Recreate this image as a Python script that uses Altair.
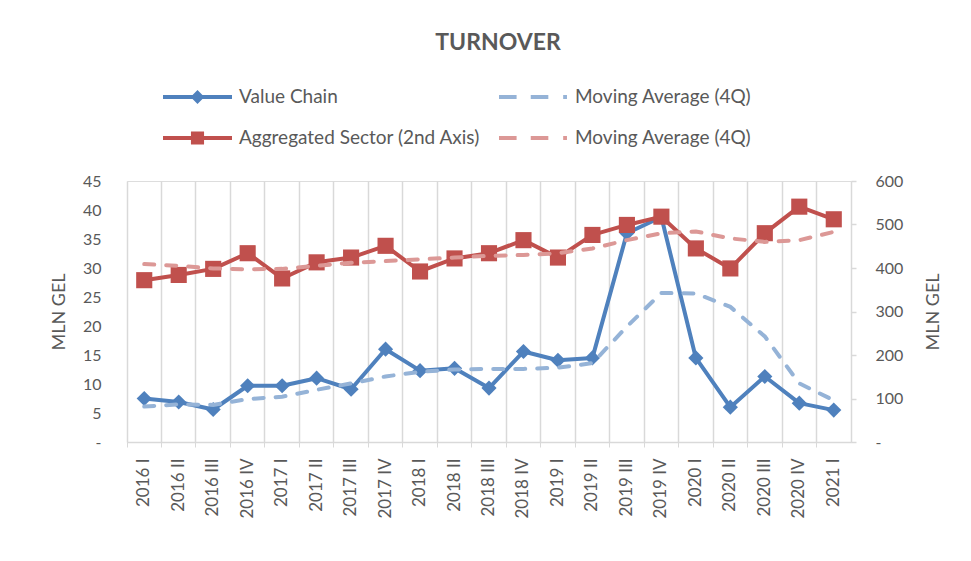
import altair as alt
import pandas as pd

quarters = ["2016 I", "2016 II", "2016 III", "2016 IV",
            "2017 I", "2017 II", "2017 III", "2017 IV",
            "2018 I", "2018 II", "2018 III", "2018 IV",
            "2019 I", "2019 II", "2019 III", "2019 IV",
            "2020 I", "2020 II", "2020 III", "2020 IV",
            "2021 I"]

value_chain = [7.5, 6.9, 5.6, 9.7, 9.7, 11.0, 9.1, 16.0, 12.3, 12.7, 9.3,
               15.6, 14.1, 14.5, 36.0, 38.8, 14.5, 6.0, 11.3, 6.7, 5.5]
value_chain_ma = [6.1, 6.5, 6.4, 7.4, 7.8, 9.0, 10.1, 11.3, 12.1, 12.5, 12.6,
                  12.6, 12.8, 13.6, 19.9, 25.7, 25.6, 23.3, 18.2, 10.1, 7.2]
aggregated = [372, 384, 398, 434, 376, 413, 424, 451, 392, 422, 434,
              464, 424, 476, 499, 518, 445, 399, 480, 541, 512]
aggregated_ma = [409, 405, 399, 397, 398, 405, 412, 416, 420, 424, 428,
                 430, 434, 445, 464, 480, 484, 468, 460, 464, 483]

legend_keys = ["Value Chain", "Aggregated Sector (2nd Axis)", "MA_VC", "MA_AS"]
legend_colors = ["#4F81BD", "#C0504D", "#95B3D7", "#DC9896"]

df = pd.DataFrame({
    "q": quarters,
    "vc": value_chain,
    "vc_ma": value_chain_ma,
    "ag": aggregated,
    "ag_ma": aggregated_ma,
})

GRAY = "#595959"
LINE = "#D9D9D9"
FONT = "Lato"

x_enc = alt.X(
    "q:N", sort=quarters, bandPosition=0.5, title=None,
    scale=alt.Scale(type="band", paddingInner=0, paddingOuter=0),
    axis=alt.Axis(bandPosition=0, grid=True, gridColor=LINE, gridWidth=1.5,
                  domainColor=LINE, domainWidth=1.5, tickColor=LINE, tickSize=5,
                  labelAngle=-90, labelPadding=11, labelFontSize=17,
                  labelColor=GRAY, labelFont=FONT),
)

left_axis = alt.Axis(values=list(range(0, 50, 5)), grid=False, domain=False, ticks=False,
                     tickSize=0, labelPadding=26, labelFontSize=16, labelColor=GRAY,
                     labelFont=FONT, labelExpr="datum.value == 0 ? '-' : datum.label",
                     title="MLN GEL", titleFontSize=18, titleFontWeight="normal",
                     titleColor=GRAY, titleFont=FONT, titlePadding=14)
right_axis = alt.Axis(orient="right", values=list(range(0, 700, 100)), grid=False,
                      domain=True, domainColor=LINE, domainWidth=1.5, ticks=True,
                      tickColor=LINE, tickSize=5, tickWidth=1.5, labelPadding=19,
                      labelFontSize=16, labelColor=GRAY, labelFont=FONT,
                      labelExpr="datum.value == 0 ? '-' : datum.label",
                      title="MLN GEL", titleFontSize=18, titleFontWeight="normal",
                      titleColor=GRAY, titleFont=FONT, titlePadding=40, titleAngle=270)

left_scale = alt.Scale(domain=[0, 45], nice=False, zero=True)
right_scale = alt.Scale(domain=[0, 600], nice=False, zero=True)

base = alt.Chart(df)

vc_line = base.mark_line(
    color="#4F81BD", strokeWidth=4, strokeJoin="round",
    point=alt.OverlayMarkDef(shape="diamond", size=230, filled=True, color="#4F81BD", opacity=1),
).encode(x=x_enc, y=alt.Y("vc:Q", scale=left_scale, axis=left_axis))

ag_line = base.mark_line(
    color="#C0504D", strokeWidth=4, strokeJoin="round",
    point=alt.OverlayMarkDef(shape="square", size=260, filled=True, color="#C0504D", opacity=1),
).encode(x=x_enc, y=alt.Y("ag:Q", scale=right_scale, axis=right_axis))

vc_ma_line = base.mark_line(
    color="#95B3D7", strokeWidth=4, strokeDash=[10, 12], strokeCap="round",
).encode(x=x_enc, y=alt.Y("vc_ma:Q", scale=left_scale, axis=None))

ag_ma_line = base.mark_line(
    color="#DC9896", strokeWidth=4, strokeDash=[10, 12], strokeCap="round",
).encode(x=x_enc, y=alt.Y("ag_ma:Q", scale=right_scale, axis=None))

# legend-only layer (no rows survive the filter; legend built from explicit scale domains)
dash_path = "M-1,-0.06H-0.49V0.06H-1Z M-0.08,-0.06H0.43V0.06H-0.08Z M0.86,-0.06H0.97V0.06H0.86Z"
legend_paths = [
    "M-1,-0.06H1V0.06H-1Z M0,-0.2L0.2,0L0,0.2L-0.2,0Z",
    "M-1,-0.06H1V0.06H-1Z M-0.19,-0.19H0.19V0.19H-0.19Z",
    dash_path,
    dash_path,
]
legend_df = pd.DataFrame({"series": legend_keys})
legend_layer = alt.Chart(legend_df).transform_filter("false").mark_point(
    filled=True, opacity=1
).encode(
    color=alt.Color("series:N", scale=alt.Scale(domain=legend_keys, range=legend_colors),
                    legend=alt.Legend(
                        title=None, orient="none", legendX=36, legendY=-95,
                        columns=2, columnPadding=18, rowPadding=19, clipHeight=22,
                        symbolSize=4761, symbolStrokeWidth=0, labelOffset=7,
                        labelFontSize=19, labelColor=GRAY, labelFont=FONT,
                        labelLimit=400,
                        labelExpr="(datum.label == 'MA_VC' || datum.label == 'MA_AS') ? 'Moving Average (4Q)' : datum.label",
                    )),
    shape=alt.Shape("series:N", scale=alt.Scale(domain=legend_keys, range=legend_paths)),
)

chart = alt.layer(vc_line, ag_line, vc_ma_line, ag_ma_line, legend_layer).resolve_scale(
    y="independent"
).properties(
    width=724, height=261,
    title=alt.TitleParams("TURNOVER", anchor="middle", dx=9, fontSize=23, fontWeight="bold",
                          color=GRAY, font=FONT, frame="group", offset=31),
    autosize=alt.AutoSizeParams(type="none"),
    padding={"left": 119, "top": 173, "right": 112, "bottom": 103},
).configure_view(stroke=None).configure(background="white")

chart.save("out.html", embed_options={"renderer": "svg", "actions": False})
